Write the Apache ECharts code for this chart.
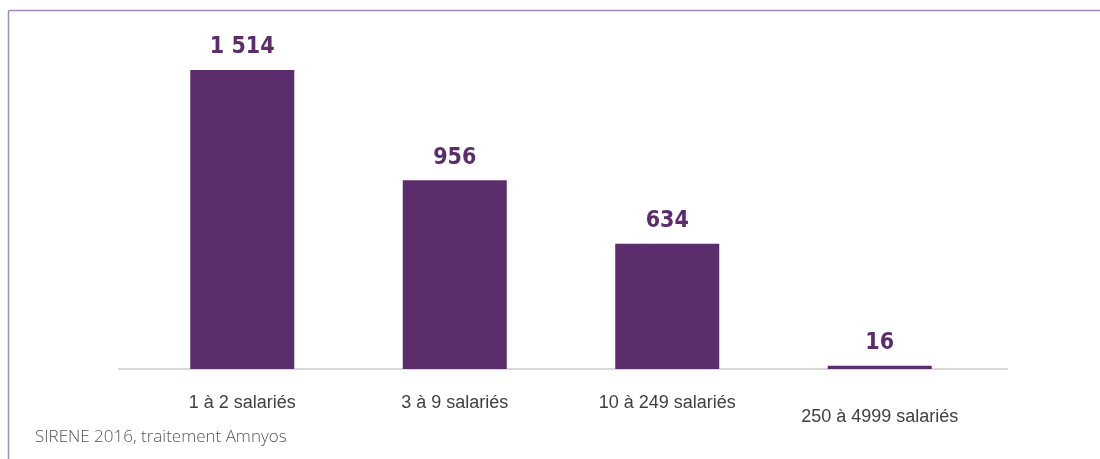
<!DOCTYPE html>
<html>
<head>
<meta charset="utf-8">
<script src="https://cdn.jsdelivr.net/npm/echarts@6/dist/echarts.min.js"></script>
<style>
html,body{margin:0;padding:0;background:#fff;}
#chart{width:1100px;height:459px;}
</style>
</head>
<body>
<div id="chart"></div>
<script>
var categories = ['1 à 2 salariés', '3 à 9 salariés', '10 à 249 salariés', '250 à 4999 salariés'];
var values = [1514, 956, 634, 16];
var valueLabels = ['1 514', '956', '634', '16'];
var sourceText = 'SIRENE 2016, traitement Amnyos';

var chart = echarts.init(document.getElementById('chart'));
var catData = categories.map(function (c, i) {
  if (i === categories.length - 1) {
    return { value: c, textStyle: { padding: [14, 0, 0, 0] } };
  }
  return c;
});
chart.setOption({
  animation: false,
  backgroundColor: '#fff',
  grid: { left: 136, right: 114, top: 70, bottom: 90 },
  xAxis: {
    type: 'category',
    data: catData,
    axisLine: { show: false },
    axisTick: { show: false },
    axisLabel: {
      color: '#404040',
      fontFamily: 'Liberation Sans, Arial, sans-serif',
      fontSize: 18,
      margin: 25
    }
  },
  yAxis: {
    type: 'value',
    min: 0,
    max: 1514,
    show: false,
    splitLine: { show: false }
  },
  series: [{
    type: 'bar',
    data: values,
    barWidth: 104,
    itemStyle: { color: '#5b2d6c' },
    label: {
      show: true,
      position: 'top',
      distance: 11,
      color: '#5b2d6c',
      fontFamily: '"DejaVu Sans Condensed", sans-serif',
      fontWeight: 'bold',
      fontSize: 23,
      formatter: function (p) { return valueLabels[p.dataIndex]; }
    },
    z: 3
  }],
  graphic: [
    { type: 'line', shape: { x1: 118, y1: 369, x2: 1008, y2: 369 }, style: { stroke: '#d9d9d9', lineWidth: 2 }, z: 1 },
    { type: 'line', shape: { x1: 8.5, y1: 10.5, x2: 1100, y2: 10.5 }, style: { stroke: '#a68bb6', lineWidth: 1.5 } },
    { type: 'line', shape: { x1: 8.5, y1: 10.5, x2: 8.5, y2: 459 }, style: { stroke: '#a68bb6', lineWidth: 1.5 } },
    { type: 'text', left: 35, top: 429, style: { text: sourceText, fill: '#555555', font: '300 17px "Open Sans", sans-serif' } }
  ]
});
</script>
</body>
</html>
